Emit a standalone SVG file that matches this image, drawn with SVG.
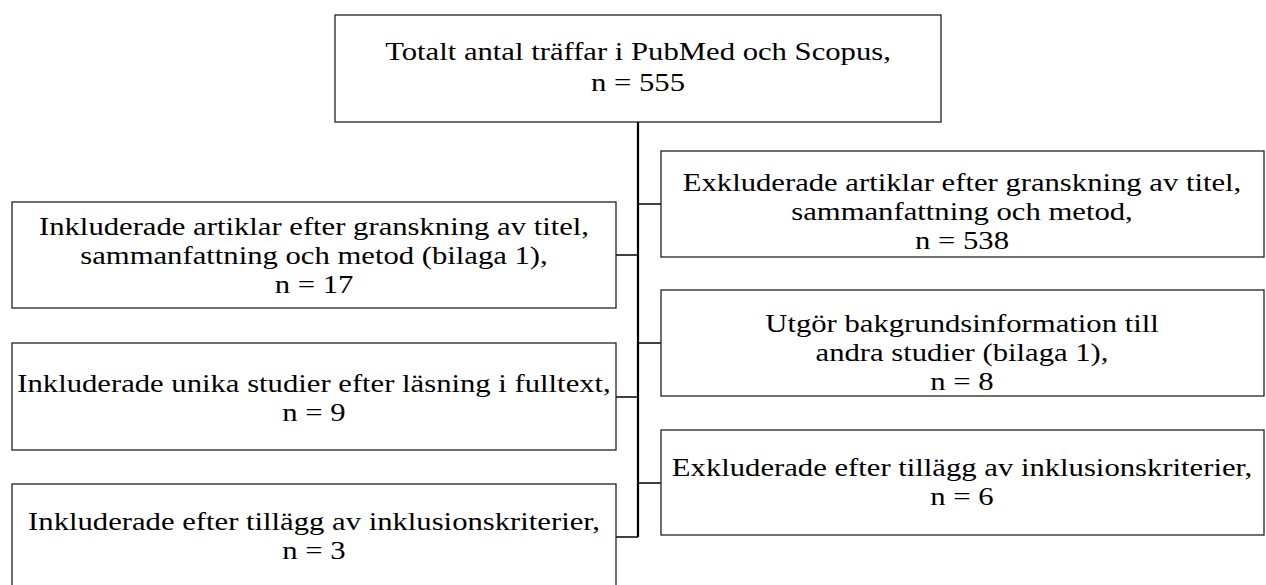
<svg xmlns="http://www.w3.org/2000/svg" width="1266" height="585" viewBox="0 0 1266 585">
<style>
.box{fill:#fff;stroke:#222;stroke-width:1.3}
.t{font-family:"Liberation Serif","DejaVu Serif",serif;font-size:26px;fill:#000;text-anchor:middle}
.c{stroke:#000;stroke-width:1.5;fill:none}
.trunk{stroke:#000;stroke-width:2.2;fill:none}
</style>
<rect width="1266" height="585" fill="#fff"/>
<g id="connectors">
<line class="trunk" x1="638" y1="122" x2="638" y2="537"/>
<line class="c" x1="638" y1="204" x2="661" y2="204"/>
<line class="c" x1="616" y1="255" x2="638" y2="255"/>
<line class="c" x1="638" y1="343" x2="661" y2="343"/>
<line class="c" x1="616" y1="397" x2="638" y2="397"/>
<line class="c" x1="638" y1="483" x2="661" y2="483"/>
<line class="c" x1="616" y1="537" x2="638" y2="537"/>
</g>
<g id="n_total">
<rect class="box" x="335" y="15" width="606" height="107"/>
<text class="t" transform="translate(638 60) scale(1.18 1)">Totalt antal träffar i PubMed och Scopus,</text>
<text class="t" transform="translate(638 91) scale(1.18 1)">n = 555</text>
</g>
<g id="n_incl1">
<rect class="box" x="12" y="202" width="604" height="106"/>
<text class="t" transform="translate(314 235) scale(1.18 1)">Inkluderade artiklar efter granskning av titel,</text>
<text class="t" transform="translate(314 264) scale(1.18 1)">sammanfattning och metod (bilaga 1),</text>
<text class="t" transform="translate(314 293) scale(1.18 1)">n = 17</text>
</g>
<g id="n_incl2">
<rect class="box" x="12" y="343" width="604" height="107"/>
<text class="t" transform="translate(314 392) scale(1.18 1)">Inkluderade unika studier efter läsning i fulltext,</text>
<text class="t" transform="translate(314 421) scale(1.18 1)">n = 9</text>
</g>
<g id="n_incl3">
<rect class="box" x="12" y="484" width="604" height="110"/>
<text class="t" transform="translate(314 530) scale(1.18 1)">Inkluderade efter tillägg av inklusionskriterier,</text>
<text class="t" transform="translate(314 559) scale(1.18 1)">n = 3</text>
</g>
<g id="n_excl1">
<rect class="box" x="661" y="151" width="603" height="106"/>
<text class="t" transform="translate(962 191) scale(1.18 1)">Exkluderade artiklar efter granskning av titel,</text>
<text class="t" transform="translate(962 220) scale(1.18 1)">sammanfattning och metod,</text>
<text class="t" transform="translate(962 249) scale(1.18 1)">n = 538</text>
</g>
<g id="n_bg">
<rect class="box" x="661" y="290" width="603" height="106"/>
<text class="t" transform="translate(962 332) scale(1.18 1)">Utgör bakgrundsinformation till</text>
<text class="t" transform="translate(962 361) scale(1.18 1)">andra studier (bilaga 1),</text>
<text class="t" transform="translate(962 390) scale(1.18 1)">n = 8</text>
</g>
<g id="n_excl2">
<rect class="box" x="661" y="430" width="603" height="105"/>
<text class="t" transform="translate(962 476) scale(1.18 1)">Exkluderade efter tillägg av inklusionskriterier,</text>
<text class="t" transform="translate(962 505) scale(1.18 1)">n = 6</text>
</g>
</svg>
